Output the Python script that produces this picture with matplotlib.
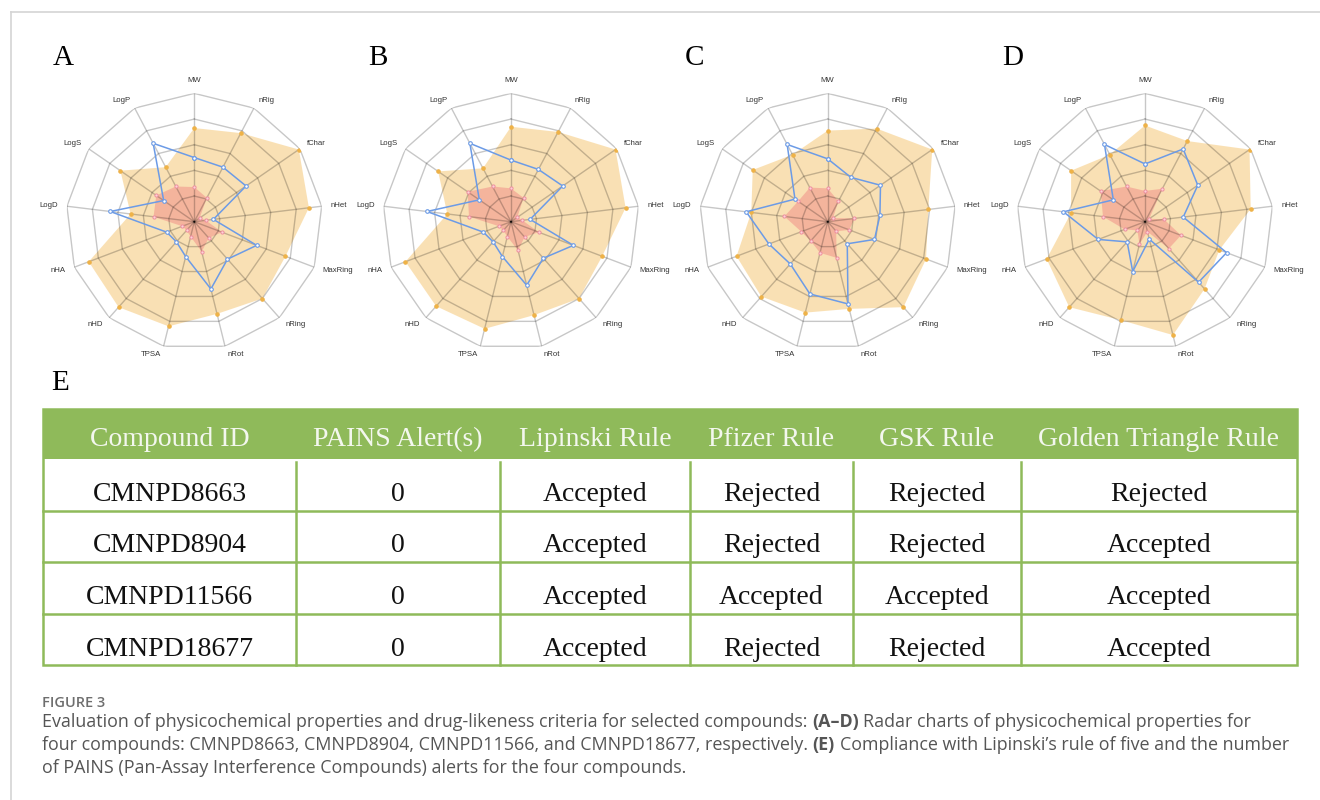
import numpy as np
import matplotlib.pyplot as plt
from matplotlib.patches import Rectangle

W, H = 1320, 800

# ---------------------------------------------------------------
# radar data (values normalised to the 0-1 range of each property)
# ---------------------------------------------------------------
PROPS = ['MW', 'nRig', 'fChar', 'nHet', 'MaxRing', 'nRing', 'nRot',
         'TPSA', 'nHD', 'nHA', 'LogD', 'LogS', 'LogP']

UPPER_8663 = [0.73, 0.78, 0.99, 0.90, 0.76, 0.80, 0.74, 0.84, 0.89, 0.88, 0.50, 0.70, 0.48]
LOWER_8663 = [0.27, 0.21, 0.05, 0.09, 0.23, 0.17, 0.24, 0.12, 0.09, 0.10, 0.32, 0.36, 0.31]
VALUE_8663 = [0.50, 0.48, 0.49, 0.15, 0.52, 0.39, 0.54, 0.28, 0.21, 0.23, 0.66, 0.29, 0.69]

UPPER_8904 = [0.74, 0.79, 0.99, 0.90, 0.76, 0.80, 0.75, 0.86, 0.88, 0.88, 0.50, 0.69, 0.47]
LOWER_8904 = [0.26, 0.21, 0.06, 0.09, 0.23, 0.16, 0.23, 0.12, 0.09, 0.10, 0.33, 0.41, 0.31]
VALUE_8904 = [0.48, 0.46, 0.49, 0.15, 0.52, 0.38, 0.51, 0.28, 0.21, 0.23, 0.66, 0.30, 0.69]

UPPER_11566 = [0.71, 0.82, 0.99, 0.79, 0.82, 0.89, 0.70, 0.73, 0.78, 0.76, 0.60, 0.71, 0.59]
LOWER_11566 = [0.26, 0.18, 0.05, 0.21, 0.18, 0.10, 0.29, 0.25, 0.20, 0.22, 0.34, 0.28, 0.30]
VALUE_11566 = [0.49, 0.39, 0.50, 0.41, 0.39, 0.23, 0.66, 0.58, 0.44, 0.49, 0.64, 0.31, 0.68]

UPPER_18677 = [0.75, 0.71, 0.99, 0.83, 0.62, 0.70, 0.91, 0.79, 0.89, 0.82, 0.58, 0.70, 0.59]
LOWER_18677 = [0.24, 0.29, 0.04, 0.15, 0.30, 0.28, 0.08, 0.18, 0.09, 0.17, 0.33, 0.42, 0.31]
VALUE_18677 = [0.45, 0.64, 0.50, 0.30, 0.68, 0.63, 0.14, 0.40, 0.21, 0.39, 0.64, 0.30, 0.68]

PANEL_LETTERS = ['A', 'B', 'C', 'D']

# ---------------------------------------------------------------
# drug-likeness table
# ---------------------------------------------------------------
HEADERS = ['Compound ID', 'PAINS Alert(s)', 'Lipinski Rule', 'Pfizer Rule',
           'GSK Rule', 'Golden Triangle Rule']
COMPOUNDS = ['CMNPD8663', 'CMNPD8904', 'CMNPD11566', 'CMNPD18677']
PAINS = ['0', '0', '0', '0']
LIPINSKI = ['Accepted', 'Accepted', 'Accepted', 'Accepted']
PFIZER = ['Rejected', 'Rejected', 'Accepted', 'Rejected']
GSK = ['Rejected', 'Rejected', 'Accepted', 'Rejected']
GOLDEN = ['Rejected', 'Accepted', 'Accepted', 'Accepted']

CAPTION_TITLE = 'FIGURE 3'
CAPTION = [
    [("Evaluation of physicochemical properties and drug-likeness criteria for selected compounds:", 'normal'),
     ("(A\u2013D)", 'bold'),
     ("Radar charts of physicochemical properties for", 'normal')],
    [("four compounds: CMNPD8663, CMNPD8904, CMNPD11566, and CMNPD18677, respectively.", 'normal'),
     ("(E)", 'bold'),
     ("Compliance with Lipinski\u2019s rule of five and the number", 'normal')],
    [("of PAINS (Pan-Assay Interference Compounds) alerts for the four compounds.", 'normal')],
]

ORANGE = '#f5c36b'
PINK = '#f08080'
BLUE = '#6c9be6'
GREEN = '#8fba5a'
SERIF = 'Liberation Serif'
SANS = 'Liberation Sans'
CAP_FONT = 'Open Sans'
CAP_SIZE = 12.9


def closed(v):
    v = list(v)
    return v + v[:1]


def radar(ax, upper, lower, value):
    n = len(PROPS)
    theta = np.linspace(0, 2 * np.pi, n, endpoint=False)
    tc = closed(theta)

    ax.set_theta_zero_location('N')
    ax.set_theta_direction(-1)
    ax.set_ylim(0, 1)
    ax.axis('off')

    ax.fill(tc, closed(upper), color=ORANGE, alpha=0.5, lw=0, zorder=1)
    ax.fill(tc, closed(lower), color=PINK, alpha=0.45, lw=0, zorder=2)

    # polygon grid drawn over the fills
    for r in [0.2, 0.4, 0.6, 0.8, 1.0]:
        ax.plot(tc, [r] * len(tc), color='black', alpha=0.22, lw=1.0, zorder=3)
    for t in theta:
        ax.plot([t, t], [0, 1], color='black', alpha=0.22, lw=1.0, zorder=3)

    ax.plot(theta, upper, 'o', ms=2.3, color='#f0b443', mec='#eeb24a', zorder=4)
    ax.plot(theta, lower, 'o', ms=2.3, mfc='#fbd3d6', mec='#ef8fa0', mew=0.7, zorder=4)
    ax.plot(tc, closed(value), color=BLUE, lw=1.1, marker='o', ms=2.6,
            mfc='white', mec=BLUE, mew=0.8, zorder=5)

    for t, name in zip(theta, PROPS):
        s = np.sin(t)
        if abs(s) < 1e-6:
            ha, va = 'center', ('bottom' if np.cos(t) > 0 else 'top')
        else:
            ha, va = ('left' if s > 0 else 'right'), 'center'
        ax.text(t, 1.07, name, ha=ha, va=va, fontsize=5.6, color='#333333',
                family=SANS)


fig = plt.figure(figsize=(W / 100, H / 100), dpi=100)
bg = fig.add_axes([0, 0, 1, 1])
bg.set_xlim(0, W)
bg.set_ylim(H, 0)
bg.axis('off')

# page frame
bg.plot([11, W], [12, 12], color='#d4d4d4', lw=1.2)
bg.plot([11, 11], [12, H], color='#d4d4d4', lw=1.2)

# radar panels
centers_x = [194.3, 511.0, 827.7, 1145.0]
center_y = 221.7
R = 128.3
letter_x = [63, 378, 695, 1013]
series = [(UPPER_8663, LOWER_8663, VALUE_8663),
          (UPPER_8904, LOWER_8904, VALUE_8904),
          (UPPER_11566, LOWER_11566, VALUE_11566),
          (UPPER_18677, LOWER_18677, VALUE_18677)]
for cx, lx, letter, (up, lo, val) in zip(centers_x, letter_x, PANEL_LETTERS, series):
    ax = fig.add_axes([(cx - R) / W, 1 - (center_y + R) / H, 2 * R / W, 2 * R / H],
                      projection='polar')
    radar(ax, up, lo, val)
    bg.text(lx, 58, letter, ha='center', va='center', fontsize=21, family=SERIF)

bg.text(60, 383, 'E', ha='center', va='center', fontsize=21, family=SERIF)

# table
cols = [43, 296, 500, 690, 853, 1021, 1297]
top, head_bot, bottom = 409, 459, 665
row_h = (bottom - head_bot) / len(COMPOUNDS)
bg.add_patch(Rectangle((cols[0], top), cols[-1] - cols[0], head_bot - top,
                       facecolor=GREEN, edgecolor='none'))
bg.add_patch(Rectangle((cols[0], top), cols[-1] - cols[0], bottom - top,
                       facecolor='none', edgecolor=GREEN, lw=1.8))
for k in range(1, len(COMPOUNDS)):
    y = head_bot + k * row_h
    bg.plot([cols[0], cols[-1]], [y, y], color=GREEN, lw=1.8)
for x in cols[1:-1]:
    bg.plot([x, x], [head_bot + 3, bottom], color=GREEN, lw=1.8)

mids = [(a + b) / 2 for a, b in zip(cols[:-1], cols[1:])]
for m, h in zip(mids, HEADERS):
    bg.text(m, 446, h, ha='center', va='baseline', fontsize=20, family=SERIF,
            color='#f3f7ee')
table_cols = [COMPOUNDS, PAINS, LIPINSKI, PFIZER, GSK, GOLDEN]
for m, column in zip(mids, table_cols):
    for k, cell in enumerate(column):
        bg.text(m, 501 + k * row_h, cell, ha='center', va='baseline',
                fontsize=20, family=SERIF, color='#111111')

# caption
renderer = fig.canvas.get_renderer()
bg.text(42, 703, CAPTION_TITLE, ha='left', va='center', fontsize=10.5,
        family=CAP_FONT, fontweight='semibold', color='#6e6e6e')


def text_width(s, weight):
    t = bg.text(0, 0, s, fontsize=CAP_SIZE, family=CAP_FONT, fontweight=weight)
    w = t.get_window_extent(renderer).width
    t.remove()
    return w


space_w = text_width('n n', 'normal') - text_width('nn', 'normal')
for i, parts in enumerate(CAPTION):
    x = 42
    for txt, weight in parts:
        t = bg.text(x, 727 + 23 * i, txt, ha='left', va='baseline', fontsize=CAP_SIZE,
                    family=CAP_FONT, fontweight=weight, color='#555555')
        x += t.get_window_extent(renderer).width + space_w

fig.savefig('out.png', dpi=100)
